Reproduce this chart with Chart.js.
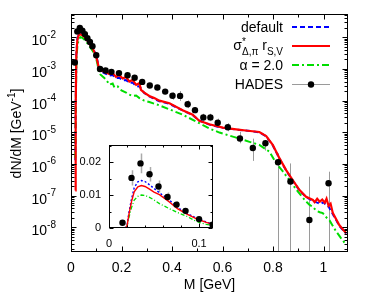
<!DOCTYPE html>
<html><head><meta charset="utf-8">
<script src="https://cdn.jsdelivr.net/npm/chart.js@4.4.1/dist/chart.umd.min.js"></script>
<style>
html,body{margin:0;padding:0;background:#fff;}
#wrap{position:relative;width:374px;height:299px;overflow:hidden;}
#main{position:absolute;left:0;top:0;}
#inset{position:absolute;left:68px;top:130px;}
</style></head><body>
<div id="wrap"><canvas id="main" width="374" height="299"></canvas><canvas id="inset" width="150" height="125"></canvas></div>
<script>
// ---------- tick labels ----------
const xTickVals=[0,0.2,0.4,0.6,0.8,1.0];
const xTickLabels=['0','0.2','0.4','0.6','0.8','1'];
const yTickExps=[-2,-3,-4,-5,-6,-7,-8];
const insetXTickVals=[0,0.1];
const insetXTickLabels=['0','0.1'];
const insetYTickVals=[0,0.01,0.02];
const insetYTickLabels=['0','0.01','0.02'];

// ---------- HADES data ----------
const hadesM=[0.015,0.025,0.035,0.045,0.055,0.065,0.075,0.085,0.1,0.115,0.137,0.16,0.19,0.224,0.252,0.282,0.312,0.342,0.373,0.402,0.432,0.462,0.491,0.524,0.552,0.581,0.621,0.669,0.72,0.77,0.82,0.869,0.944,1.02];
const hadesY=[0.0016,0.0152,0.0196,0.0163,0.0126,0.0094,0.0071,0.0052,0.0027,1.0e-3,8.9e-4,8.1e-4,7.4e-4,6.3e-4,5.3e-4,3.9e-4,3.0e-4,2.6e-4,1.93e-4,1.42e-4,1.41e-4,7.7e-5,5.0e-5,2.95e-5,2.95e-5,2.0e-5,1.44e-5,6.4e-6,3.2e-6,4.5e-6,1.13e-6,2.8e-7,1.7e-8,2.45e-7];
const hadesErrUp=[0.0003,0.0023,0.003,0.0022,0.0018,0.0014,0.001,0.0006,0.0004,1e-4,9e-5,8e-5,8e-5,7e-5,6e-5,5e-5,4e-5,4e-5,3e-5,4e-5,6e-5,2.5e-5,1.3e-5,9e-6,9e-6,7e-6,5e-6,4e-6,3.1e-6,1.2e-6,1.04e-6,7.6e-7,3.8e-7,3.25e-7];
const hadesErrDown=[0.0003,0.0023,0.003,0.0022,0.0018,0.0014,0.001,0.0006,0.0004,1e-4,9e-5,8e-5,8e-5,7e-5,6e-5,5e-5,4e-5,4e-5,3e-5,3.5e-5,4.3e-5,1.9e-5,1.0e-5,7e-6,7e-6,5e-6,3.6e-6,1.9e-6,1.95e-6,1.85e-6,1.13e-6,2.8e-7,1.7e-8,2.45e-7];

// ---------- main curves ----------
const redM=[0.017,0.0185,0.021,0.025,0.03,0.036,0.045,0.055,0.065,0.075,0.086,0.095,0.1,0.105,0.11,0.115,0.132,0.152,0.165,0.178,0.191,0.205,0.218,0.231,0.244,0.258,0.271,0.277,0.29,0.31,0.33,0.35,0.39,0.442,0.482,0.508,0.548,0.601,0.654,0.7,0.746,0.773,0.799,0.826,0.852,0.878,0.905,0.931,0.958,0.965,0.975,0.985,0.995,1.005,1.012,1.02,1.028,1.037,1.063,1.09];
const redV=[1.46e-7,5e-5,2.5e-3,8e-3,0.0115,0.0125,0.0117,0.0099,0.0079,0.006,0.0044,0.0031,0.0024,0.0017,0.0011,9.3e-4,8.1e-4,6.9e-4,7.5e-4,5.6e-4,6.4e-4,5.0e-4,5.6e-4,4.0e-4,4.5e-4,3.15e-4,3.55e-4,2.2e-4,1.8e-4,1.4e-4,1.2e-4,1.0e-4,8.3e-5,5.0e-5,3.6e-5,2.3e-5,1.8e-5,1.4e-5,1.23e-5,1.12e-5,1.02e-5,7.6e-6,4.0e-6,1.5e-6,6.4e-7,3.1e-7,1.5e-7,9.2e-8,7.3e-8,6.2e-8,8.0e-8,6.4e-8,7.5e-8,6.0e-8,8.0e-8,4.8e-8,5.6e-8,2.8e-8,1.16e-8,6.5e-9];
const blueM=[0.017,0.0185,0.021,0.025,0.03,0.036,0.045,0.055,0.065,0.075,0.086,0.095,0.1,0.105,0.11,0.115,0.132,0.152,0.165,0.178,0.191,0.205,0.218,0.231,0.244,0.258,0.271,0.29,0.31,0.33,0.35,0.39,0.442,0.482,0.508,0.548,0.601,0.654,0.7,0.746,0.773,0.799,0.826,0.852,0.878,0.905,0.931,0.958,0.975,0.99,1.0,1.01,1.02,1.037,1.063,1.09];
const blueV=[1.3e-6,6e-5,2.8e-3,9e-3,0.0128,0.0142,0.0131,0.0109,0.0086,0.0064,0.0046,0.0033,0.0026,0.0018,0.0011,8.8e-4,7.4e-4,6.2e-4,6.4e-4,5.2e-4,5.3e-4,4.4e-4,4.5e-4,3.6e-4,3.7e-4,2.9e-4,2.8e-4,1.75e-4,1.36e-4,1.13e-4,9.6e-5,7.9e-5,4.9e-5,3.5e-5,2.35e-5,1.75e-5,1.38e-5,1.22e-5,1.12e-5,1.0e-5,7.4e-6,3.9e-6,1.45e-6,6.2e-7,3.0e-7,1.45e-7,9.0e-8,6.8e-8,6.0e-8,5.5e-8,6.2e-8,5.0e-8,4.5e-8,2.6e-8,1.1e-8,6.3e-9];
const greenM=[0.017,0.019,0.022,0.026,0.032,0.038,0.045,0.055,0.065,0.075,0.086,0.095,0.1,0.105,0.11,0.115,0.132,0.145,0.152,0.165,0.172,0.185,0.2,0.218,0.23,0.244,0.258,0.271,0.29,0.31,0.35,0.39,0.442,0.495,0.548,0.588,0.627,0.667,0.707,0.746,0.786,0.812,0.839,0.865,0.898,0.931,0.945,0.958,0.97,0.985,0.997,1.01,1.024,1.05,1.07,1.09];
const greenV=[1.52e-6,1e-4,2.5e-3,6e-3,9e-3,0.0101,0.0096,0.0082,0.0065,0.005,0.0037,0.0027,0.0021,0.0014,8.5e-4,6.8e-4,5.2e-4,3.9e-4,3.2e-4,3.5e-4,2.6e-4,2.8e-4,2.1e-4,1.8e-4,1.55e-4,1.4e-4,1.45e-4,1.2e-4,1.0e-4,9.0e-5,7.1e-5,5.3e-5,3.6e-5,2.2e-5,1.32e-5,9.8e-6,7.9e-6,6.3e-6,5.0e-6,4.0e-6,2.45e-6,1.07e-6,5.8e-7,3.1e-7,1.35e-7,6.5e-8,5.1e-8,4.4e-8,3.4e-8,3.0e-8,2.8e-8,2.1e-8,1.65e-8,7.4e-9,4.5e-9,2.8e-9];

// ---------- inset curves ----------
const insetM=[0,0.018,0.02,0.022,0.025,0.028,0.032,0.036,0.04,0.045,0.05,0.056,0.066,0.076,0.086,0.095,0.1,0.108,0.1155];
const insetRed=[0,0,0.0005,0.004,0.008,0.011,0.0125,0.0129,0.0126,0.0118,0.0109,0.0101,0.0081,0.0059,0.0043,0.0031,0.0025,0.0017,0.0011];
const insetBlue=[0,0,0.0006,0.0045,0.0088,0.0122,0.014,0.0144,0.0141,0.0131,0.012,0.0107,0.0087,0.0063,0.0045,0.0033,0.0027,0.0018,0.0012];
const insetGreen=[0,0,0.0004,0.003,0.0062,0.0085,0.0096,0.0100,0.0099,0.0093,0.0085,0.0074,0.006,0.0047,0.0036,0.0023,0.0017,0.0011,0.0008];

const FONT="'Liberation Sans', Arial, Helvetica, sans-serif";
Chart.defaults.font.family=FONT;
Chart.defaults.color='#000';

const RED='#ff0000', BLUE='#0000ff', GREEN='#00dd00';

function pts(xs,ys){return xs.map((x,i)=>({x:x,y:ys[i]}));}

function drawErrorBars(chart,color,lw){
  const {ctx,chartArea:a,scales:{x,y}}=chart;
  ctx.save();
  ctx.beginPath();ctx.rect(a.left,a.top,a.right-a.left,a.bottom-a.top);ctx.clip();
  ctx.strokeStyle=color;ctx.lineWidth=lw;
  for(let i=0;i<hadesM.length;i++){
    if(hadesM[i]>x.max) continue;
    const px=Math.round(x.getPixelForValue(hadesM[i]))+0.5;
    const hi=hadesY[i]+hadesErrUp[i];
    const lo=hadesY[i]-hadesErrDown[i];
    const pyHi=y.getPixelForValue(hi);
    const pyLo=lo>0?y.getPixelForValue(lo):a.bottom;
    ctx.beginPath();ctx.moveTo(px,pyHi);ctx.lineTo(px,pyLo);ctx.stroke();
  }
  ctx.restore();
}

function tickLine(ctx,x1,y1,x2,y2){ctx.beginPath();ctx.moveTo(x1,y1);ctx.lineTo(x2,y2);ctx.stroke();}

const mainDecor={
  id:'mainDecor',
  beforeDatasetsDraw(chart){drawErrorBars(chart,'#9a9a9a',1);},
  afterDraw(chart){
    const {ctx,chartArea:a,scales:{x,y}}=chart;
    ctx.save();
    ctx.strokeStyle='#000';ctx.lineWidth=1;
    const L=Math.round(a.left)+0.5,R=Math.round(a.right)-0.5,T=Math.round(a.top)+0.5,B=Math.round(a.bottom)-0.5;
    // x ticks
    for(let k=0;k<=10;k++){
      const v=k/10; const px=Math.round(x.getPixelForValue(v))+0.5;
      const len=(k%2===0)?5:3;
      tickLine(ctx,px,B,px,B-len);tickLine(ctx,px,T,px,T+len);
    }
    // y ticks
    for(let d=-9;d<=-1;d++){
      for(let m=1;m<=9;m++){
        const v=m*Math.pow(10,d);
        if(v<y.min||v>y.max) continue;
        const py=Math.round(y.getPixelForValue(v))+0.5;
        const len=(m===1)?5:3;
        tickLine(ctx,L,py,L+len,py);tickLine(ctx,R,py,R-len,py);
      }
    }
    ctx.strokeRect(L,T,R-L,B-T);
    // y tick labels
    ctx.fillStyle='#000';ctx.textAlign='right';ctx.textBaseline='alphabetic';
    for(const e of yTickExps){
      const py=y.getPixelForValue(Math.pow(10,e));
      const sup='-'+(-e);
      ctx.font='10px '+FONT;const sw=ctx.measureText(sup).width;
      ctx.fillText(sup,56,py+0.5);
      ctx.font='14px '+FONT;
      ctx.fillText('10',56-sw,py+8);
    }
    // y title
    ctx.save();
    ctx.translate(16,133.5);ctx.rotate(-Math.PI/2);
    ctx.textAlign='left';
    ctx.font='14px '+FONT;const t1='dN/dM [GeV',t3=']';
    const w1=ctx.measureText(t1).width,w3=ctx.measureText(t3).width;
    ctx.font='10px '+FONT;const t2='-1';const w2=ctx.measureText(t2).width;
    let x0=-(w1+w2+w3)/2;
    ctx.font='14px '+FONT;ctx.fillText(t1,x0,5);
    ctx.font='10px '+FONT;ctx.fillText(t2,x0+w1,-1);
    ctx.font='14px '+FONT;ctx.fillText(t3,x0+w1+w2,5);
    ctx.restore();
    // legend
    const lx=283,s0=292,s1=330;
    ctx.textAlign='right';ctx.font='14px '+FONT;
    ctx.fillText('default',lx,32);
    ctx.fillText('\u03b1 = 2.0',lx,70);
    ctx.fillText('HADES',lx,89);
    // sigma row
    ctx.textAlign='left';
    ctx.font='14px '+FONT;const wS=ctx.measureText('\u03c3').width;const wr=ctx.measureText(' r').width;
    ctx.font='10px '+FONT;const wst=ctx.measureText('*').width;const wsub=ctx.measureText('\u0394,\u03c0').width;const wsv=ctx.measureText('S,V').width;
    const wb=Math.max(wst,wsub);
    let sx=lx-(wS+wb+wr+wsv);
    ctx.font='14px '+FONT;ctx.fillText('\u03c3',sx,50);
    ctx.font='10px '+FONT;ctx.fillText('*',sx+wS,45);ctx.fillText('\u0394,\u03c0',sx+wS,55);
    ctx.font='14px '+FONT;ctx.fillText(' r',sx+wS+wb,50);
    ctx.font='10px '+FONT;ctx.fillText('S,V',sx+wS+wb+wr,55);
    // samples
    ctx.lineWidth=2;
    ctx.strokeStyle=BLUE;ctx.setLineDash([5,3]);tickLine(ctx,s0,27,s1,27);
    ctx.strokeStyle=RED;ctx.setLineDash([]);tickLine(ctx,s0,46,s1,46);
    ctx.strokeStyle=GREEN;ctx.setLineDash([7,3,2,3]);tickLine(ctx,s0,65,s1,65);
    ctx.setLineDash([]);ctx.strokeStyle='#9a9a9a';ctx.lineWidth=1.2;tickLine(ctx,s0,84.5,s1,84.5);
    ctx.fillStyle='#000';ctx.beginPath();ctx.arc((s0+s1)/2,84.5,3.2,0,Math.PI*2);ctx.fill();
    ctx.restore();
  }
};

new Chart(document.getElementById('main'),{
  type:'scatter',
  data:{datasets:[
    {label:'HADES',data:pts(hadesM,hadesY),showLine:false,pointRadius:3.2,pointBackgroundColor:'#000',pointBorderWidth:0,order:0},
    {label:'sigma',data:pts(redM,redV),showLine:true,borderColor:RED,borderWidth:2.2,pointRadius:0,order:1},
    {label:'alpha',data:pts(greenM,greenV),showLine:true,borderColor:GREEN,borderWidth:2,borderDash:[7,3,2,3],pointRadius:0,order:2},
    {label:'default',data:pts(blueM,blueV),showLine:true,borderColor:BLUE,borderWidth:2,borderDash:[5,3],pointRadius:0,order:3}
  ]},
  options:{
    responsive:false,animation:false,devicePixelRatio:1,
    layout:{padding:{left:0,right:26,top:14,bottom:0}},
    plugins:{legend:{display:false},tooltip:{enabled:false}},
    scales:{
      x:{type:'linear',min:0,max:1.097,
        grid:{display:false,drawTicks:false},border:{display:false},
        afterBuildTicks:s=>{s.ticks=xTickVals.map(v=>({value:v}));},
        ticks:{callback:(v,i)=>xTickLabels[i],font:{size:14},padding:8,maxRotation:0,autoSkip:false,color:'#000'},
        title:{display:true,text:'M [GeV]',font:{size:14},padding:{top:0,bottom:5},color:'#000'},
        afterFit:s=>{s.height=47;}},
      y:{type:'logarithmic',min:1.66e-9,max:0.0544,
        grid:{display:false,drawTicks:false},border:{display:false},
        ticks:{display:false},
        afterFit:s=>{s.width=71;}}
    }
  },
  plugins:[mainDecor]
});

const insetDecor={
  id:'insetDecor',
  beforeDraw(chart){const {ctx,chartArea:a}=chart;ctx.save();ctx.fillStyle='#fff';ctx.fillRect(a.left,a.top,a.right-a.left,a.bottom-a.top);ctx.restore();},
  beforeDatasetsDraw(chart){drawErrorBars(chart,'#aaaaaa',1.5);},
  afterDraw(chart){
    const {ctx,chartArea:a,scales:{x,y}}=chart;
    ctx.save();ctx.strokeStyle='#000';ctx.lineWidth=1;
    const L=Math.round(a.left)+0.5,R=Math.round(a.right)-0.5,T=Math.round(a.top)+0.5,B=Math.round(a.bottom)-0.5;
    for(let k=0;k<=5;k++){
      const v=k*0.02;const px=Math.round(x.getPixelForValue(v))+0.5;const len=(k%5===0)?4:2;
      tickLine(ctx,px,B,px,B-len);tickLine(ctx,px,T,px,T+len);
    }
    for(let k=0;k<=5;k++){
      const v=k*0.005;if(v>y.max)continue;const py=Math.round(y.getPixelForValue(v))+0.5;const len=(k%2===0)?4:2;
      tickLine(ctx,L,py,L+len,py);tickLine(ctx,R,py,R-len,py);
    }
    ctx.strokeRect(L,T,R-L,B-T);
    ctx.restore();
  }
};

new Chart(document.getElementById('inset'),{
  type:'scatter',
  data:{datasets:[
    {label:'HADES',data:pts(hadesM,hadesY).filter(p=>p.x<=0.1155),showLine:false,pointRadius:3.2,pointBackgroundColor:'#000',pointBorderWidth:0,order:0},
    {label:'sigma',data:pts(insetM,insetRed),showLine:true,borderColor:RED,borderWidth:1.4,pointRadius:0,order:1},
    {label:'alpha',data:pts(insetM,insetGreen),showLine:true,borderColor:GREEN,borderWidth:1.3,borderDash:[4,2,1,2],pointRadius:0,order:2},
    {label:'default',data:pts(insetM,insetBlue),showLine:true,borderColor:BLUE,borderWidth:1.4,borderDash:[2,2],pointRadius:0,order:3}
  ]},
  options:{
    responsive:false,animation:false,devicePixelRatio:1,
    layout:{padding:{left:0,right:5,top:7,bottom:0}},
    plugins:{legend:{display:false},tooltip:{enabled:false}},
    scales:{
      x:{type:'linear',min:0,max:0.1155,
        grid:{display:false,drawTicks:false},border:{display:false},
        afterBuildTicks:s=>{s.ticks=insetXTickVals.map(v=>({value:v}));},
        ticks:{callback:(v,i)=>insetXTickLabels[i],font:{size:11},padding:9,maxRotation:0,autoSkip:false,color:'#000'},
        afterFit:s=>{s.height=27;}},
      y:{type:'linear',min:0,max:0.0253,
        grid:{display:false,drawTicks:false},border:{display:false},
        afterBuildTicks:s=>{s.ticks=insetYTickVals.map(v=>({value:v}));},
        ticks:{callback:(v,i)=>insetYTickLabels[i],font:{size:11},padding:8,color:'#000'},
        afterFit:s=>{s.width=41;}}
    }
  },
  plugins:[insetDecor]
});
</script>
</body></html>
